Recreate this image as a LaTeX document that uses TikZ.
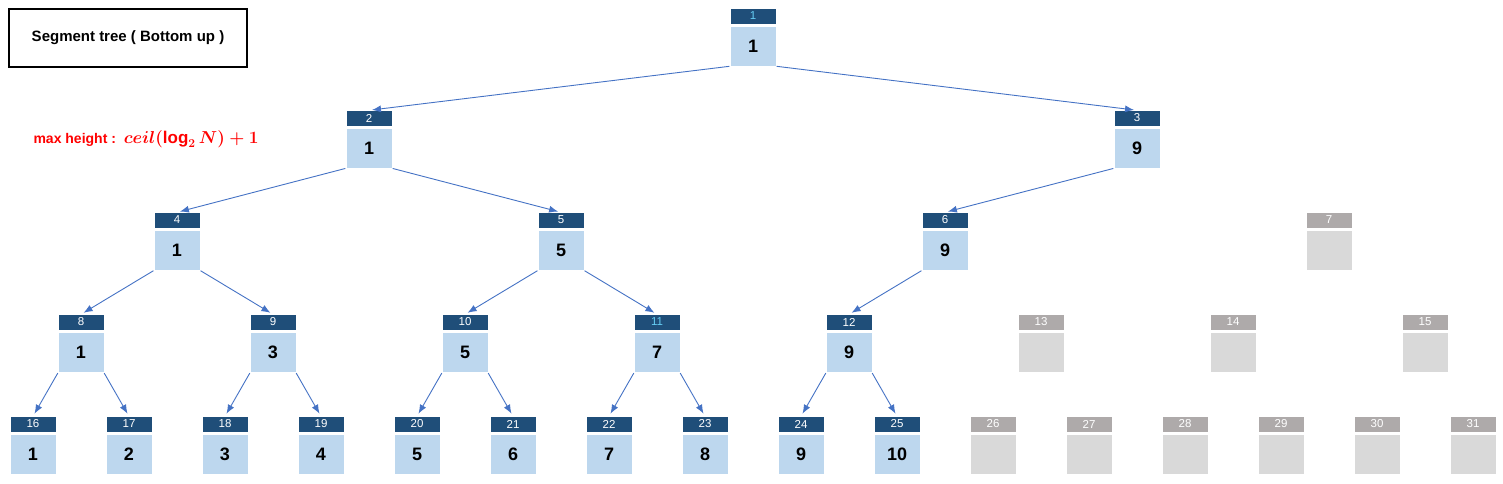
\documentclass[tikz,border=0pt]{standalone}
\usepackage{fontspec}
\setmainfont{Liberation Sans}
\usepackage{amsmath}
\usetikzlibrary{arrows.meta}
\definecolor{hdrblue}{HTML}{1F4E79}
\definecolor{boxblue}{HTML}{BDD7EE}
\definecolor{hdrgray}{HTML}{AEAAAA}
\definecolor{boxgray}{HTML}{D9D9D9}
\definecolor{edgeblue}{HTML}{4472C4}
\newcommand{\heightnote}{max height :\ \ {\fontsize{17}{17}\selectfont\boldmath$ceil(\log_2 N)+1$}}
\tikzset{
  hdr/.style={fill=hdrblue,text=white,minimum width=45pt,minimum height=15pt,inner sep=0pt,font=\fontsize{11.5}{11.5}\selectfont},
  val/.style={fill=boxblue,minimum width=45pt,minimum height=39pt,inner sep=0pt,font=\fontsize{18}{18}\selectfont\bfseries},
  off/.style={fill=hdrgray},
  offval/.style={fill=boxgray},
  edge/.style={draw=edgeblue,-{Latex[length=9pt,width=7pt]},line width=0.9pt,shorten >=3pt,shorten <=1pt}
}
\begin{document}
\begin{tikzpicture}[x=1pt,y=-1pt]
\useasboundingbox (0,0) rectangle (1503,483);
% title and note
\node[draw,line width=2.5pt,minimum width=238pt,minimum height=58pt,font=\fontsize{15}{15}\selectfont\bfseries] (title) at (128,38) {Segment tree ( Bottom up )};
\node[text=red,anchor=west,font=\fontsize{14}{14}\selectfont\bfseries] (note) at (30,139) {\heightnote};
% tree nodes
\foreach \L in {0,...,4}{
  \pgfmathtruncatemacro{\n}{2^\L-1}
  \foreach \k in {0,...,\n}{
    \pgfmathtruncatemacro{\i}{2^\L+\k}
    \pgfmathsetmacro{\xc}{33+96*(2^(4-\L)-1)/2+96*2^(4-\L)*\k}
    \pgfmathtruncatemacro{\v}{{0,1,1,9,1,5,9,0,1,3,5,7,9,0,0,0,1,2,3,4,5,6,7,8,9,10,0,0,0,0,0,0}[\i]}
    \ifnum\v>0
      \node[hdr] (h\i) at (\xc,16+102*\L) {\i};
      \node[val] (v\i) at (\xc,46.5+102*\L) {\v};
    \else
      \node[hdr,off] (h\i) at (\xc,16+102*\L) {\i};
      \node[val,offval] (v\i) at (\xc,46.5+102*\L) {};
    \fi
  }
}
% index colours of 1 and 11
\node[hdr,text=cyan!60] at (h1) {1};
\node[hdr,text=cyan!60] at (h11) {11};
% edges
\foreach \p/\c in {1/2,2/4,3/6,4/8,5/10,6/12,8/16,9/18,10/20,11/22,12/24}
  \draw[edge] (v\p.south west) -- (h\c.north);
\foreach \p/\c in {1/3,2/5,4/9,5/11,8/17,9/19,10/21,11/23,12/25}
  \draw[edge] (v\p.south east) -- (h\c.north);
\end{tikzpicture}
\end{document}
